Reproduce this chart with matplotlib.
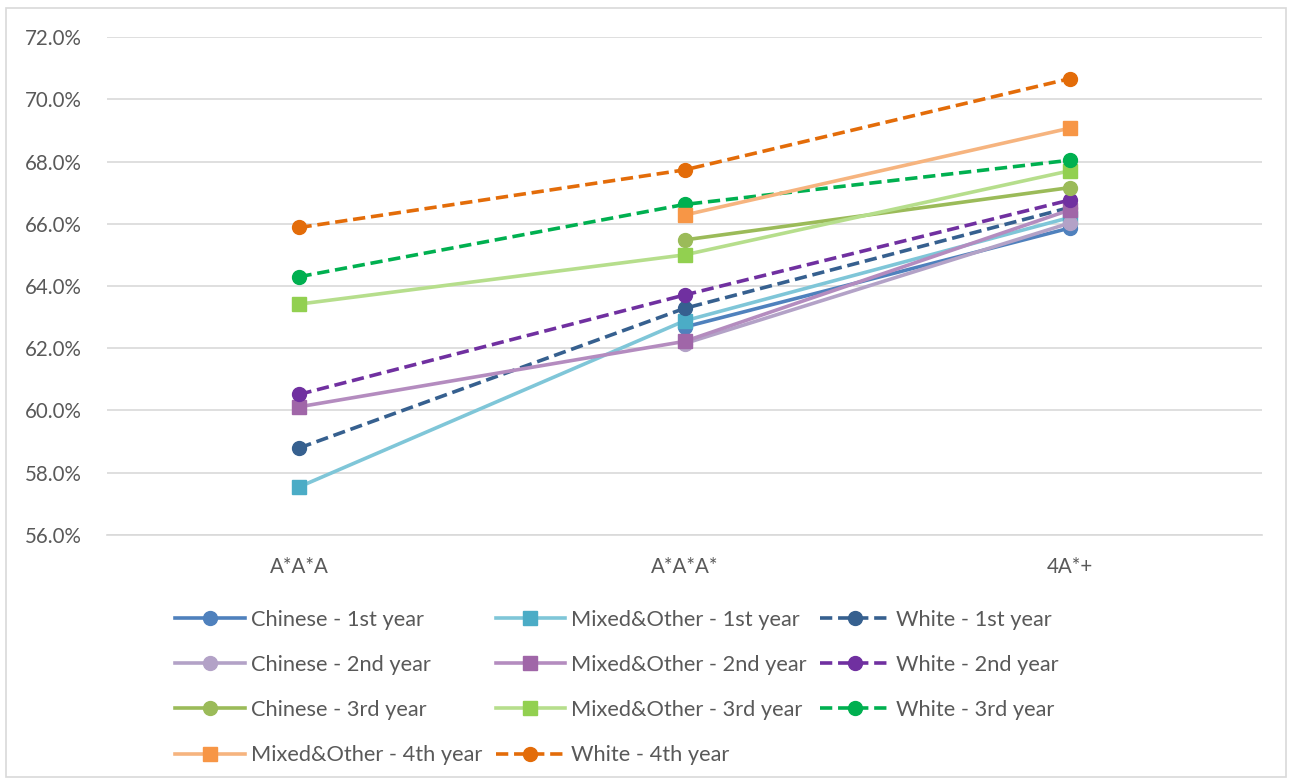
import matplotlib
matplotlib.use("Agg")
import matplotlib.pyplot as plt
import numpy as np
from matplotlib.ticker import FuncFormatter, MultipleLocator

plt.rcParams['font.family'] = ['Lato', 'DejaVu Sans']

categories = ["A*A*A", "A*A*A*", "4A*+"]

# Percentages per grade band (None = no value)
chinese_1st = [None, 62.68, 65.86]
chinese_2nd = [None, 62.15, 66.02]
chinese_3rd = [None, 65.48, 67.16]
mixed_1st = [57.55, 62.88, 66.20]
mixed_2nd = [60.12, 62.22, 66.44]
mixed_3rd = [63.42, 65.00, 67.70]
mixed_4th = [None, 66.28, 69.07]
white_1st = [58.80, 63.28, 66.52]
white_2nd = [60.52, 63.71, 66.76]
white_3rd = [64.30, 66.62, 68.04]
white_4th = [65.88, 67.73, 70.66]

# (label, values, line colour, marker colour, marker, dashed)
series = [
    ("Chinese - 1st year", chinese_1st, "#4f81bd", "#4f81bd", "o", False),
    ("Mixed&Other - 1st year", mixed_1st, "#7fc6d8", "#4bacc6", "s", False),
    ("White - 1st year", white_1st, "#36608f", "#36608f", "o", True),
    ("Chinese - 2nd year", chinese_2nd, "#b3a2c7", "#b3a2c7", "o", False),
    ("Mixed&Other - 2nd year", mixed_2nd, "#b48cbf", "#a066a8", "s", False),
    ("White - 2nd year", white_2nd, "#7030a0", "#7030a0", "o", True),
    ("Chinese - 3rd year", chinese_3rd, "#9bbb59", "#9bbb59", "o", False),
    ("Mixed&Other - 3rd year", mixed_3rd, "#b6de8c", "#92d050", "s", False),
    ("White - 3rd year", white_3rd, "#00b050", "#00b050", "o", True),
    ("Mixed&Other - 4th year", mixed_4th, "#f6b47f", "#f79646", "s", False),
    ("White - 4th year", white_4th, "#e36c09", "#e36c09", "o", True),
]

fig = plt.figure(figsize=(12.92, 7.81), dpi=100)
ax = fig.add_axes([0.0828, 0.315, 0.894, 0.6376])

x = np.arange(len(categories))
handles = []
for label, vals, lc, mc, mk, dashed in series:
    y = np.array([np.nan if v is None else v for v in vals], dtype=float)
    line, = ax.plot(x, y, color=lc, lw=2.6, marker=mk, markersize=10 if mk == "o" else 9.5,
                    markerfacecolor=mc, markeredgecolor=mc, label=label,
                    linestyle=(0, (3.4, 1.6)) if dashed else "-", zorder=3)
    handles.append(line)

ax.set_xlim(-0.5, 2.5)
ax.set_ylim(56, 72)
ax.yaxis.set_major_locator(MultipleLocator(2))
ax.yaxis.set_major_formatter(FuncFormatter(lambda v, p: f"{v:.1f}%"))
ax.set_xticks(x)
ax.set_xticklabels(categories)
ax.grid(axis="y", color="#d9d9d9", lw=1.2, zorder=0)
for s in ["top", "right", "left"]:
    ax.spines[s].set_visible(False)
ax.spines["bottom"].set_color("#d9d9d9")
ax.spines["bottom"].set_linewidth(1.2)
ax.tick_params(axis="both", length=0, labelsize=14.8, colors="#595959")
ax.tick_params(axis="y", pad=18)
ax.tick_params(axis="x", pad=16)

# Legend laid out row by row across three columns
order = [0, 3, 6, 9, 1, 4, 7, 10, 2, 5, 8]
leg = fig.legend([handles[i] for i in order], [series[i][0] for i in order],
                 ncol=3, loc="upper left", bbox_to_anchor=(0.1354, 0.219),
                 frameon=False, fontsize=15.7, handlelength=3.2,
                 columnspacing=0.62, labelspacing=1.15, handletextpad=0.28,
                 borderaxespad=0, borderpad=0)
for t in leg.get_texts():
    t.set_color("#595959")

# Chart-area border
fig.add_artist(plt.Rectangle((0.0046, 0.005), 0.991, 0.985, transform=fig.transFigure,
                             fill=False, edgecolor="#d9d9d9", lw=1.2))

fig.savefig("out.png", dpi=100)
